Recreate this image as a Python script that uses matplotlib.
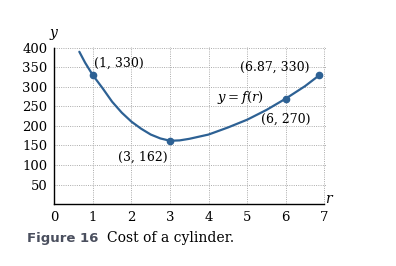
import matplotlib
matplotlib.use("Agg")
import matplotlib.pyplot as plt

plt.rcParams['font.family'] = 'DejaVu Serif'
plt.rcParams['mathtext.fontset'] = 'dejavuserif'

# curve
r_vals = [0.65, 0.8, 1, 1.25, 1.5, 1.75, 2, 2.25, 2.5, 2.75, 3, 3.25, 3.5,
          4, 4.5, 5, 5.5, 6, 6.5, 6.87]
cost_vals = [390, 362, 330, 297, 262, 234, 211, 193, 178, 168, 162, 163, 167,
             178, 196, 216, 241, 270, 302, 330]

# marked points
pt_r = [1, 3, 6, 6.87]
pt_cost = [330, 162, 270, 330]
pt_labels = ["(1, 330)", "(3, 162)", "(6, 270)", "(6.87, 330)"]

x_ticks = [0, 1, 2, 3, 4, 5, 6, 7]
y_ticks = [50, 100, 150, 200, 250, 300, 350, 400]

line_col = "#2d6194"

fig = plt.figure(figsize=(3.96, 2.66), dpi=100)
ax = fig.add_axes([0.137, 0.233, 0.685, 0.59])

ax.plot(r_vals, cost_vals, color=line_col, lw=1.6, solid_capstyle="round",
        solid_joinstyle="round")
ax.plot(pt_r, pt_cost, "o", color=line_col, ms=4.5)

ax.set_xlim(0, 7.03)
ax.set_ylim(0, 402)
ax.set_xticks(x_ticks)
ax.set_yticks(y_ticks)
ax.tick_params(length=0, labelsize=9.5, pad=5)
ax.grid(True, color="#ababab", ls=(0, (1, 1.3)), lw=0.7)
for s in ["top", "right"]:
    ax.spines[s].set_visible(False)
for s in ["left", "bottom"]:
    ax.spines[s].set_linewidth(1.0)
    ax.spines[s].set_bounds(0, 400 if s == "left" else 7)

# point labels
ax.text(1.02, 345, pt_labels[0], fontsize=9, ha="left", va="bottom")
ax.text(2.3, 120, pt_labels[1], fontsize=9, ha="center", va="center")
ax.text(6.0, 217, pt_labels[2], fontsize=9, ha="center", va="center")
ax.text(5.72, 350, pt_labels[3], fontsize=9, ha="center", va="center")
ax.text(4.82, 273, r"$y = f(r)$", fontsize=9.5, ha="center", va="center")

# axis letters
ax.text(0, 415, r"$y$", fontsize=10, ha="center", va="bottom", clip_on=False)
ax.text(7.15, -5, r"$r$", fontsize=10, ha="center", va="bottom", clip_on=False)

# caption
fig.text(0.068, 0.105, "Figure 16", fontsize=9.5, fontweight="bold",
         family="DejaVu Sans", color="#4a4f5e", va="center")
fig.text(0.27, 0.105, "Cost of a cylinder.", fontsize=10, va="center")

fig.savefig("out.png", dpi=100)
